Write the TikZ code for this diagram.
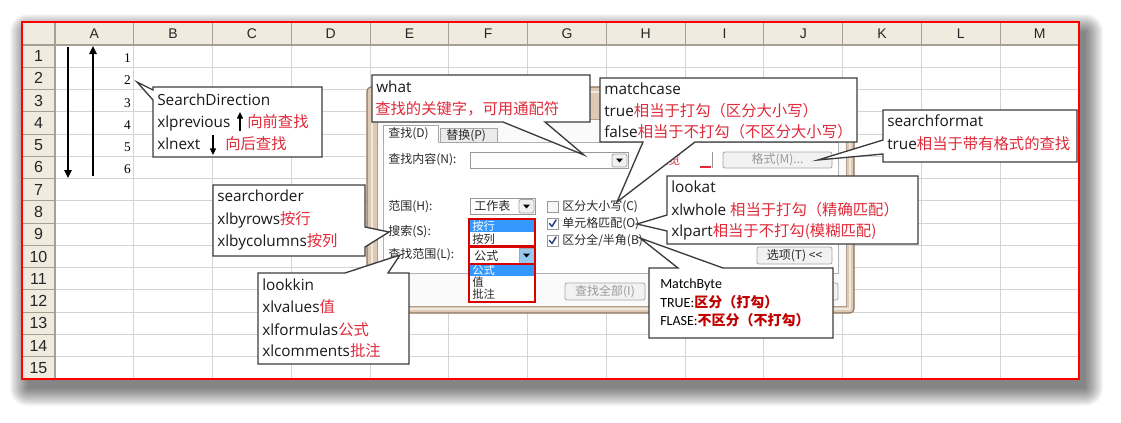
\documentclass[tikz,border=0pt]{standalone}
\usepackage{fontspec}
\setmainfont{Open Sans}
\newfontfamily\cjk{Noto Sans CJK SC}
\newfontfamily\calfont{Carlito}
\newfontfamily\hdrfont{Liberation Sans}
\newfontfamily\serfont{Liberation Serif}
\usetikzlibrary{arrows.meta,calc}
\definecolor{cred}{RGB}{224,42,58}
\definecolor{dred}{RGB}{192,0,0}
\definecolor{hdrbg}{RGB}{239,235,222}
\definecolor{hdrline}{RGB}{165,160,146}
\definecolor{gridc}{RGB}{212,212,212}
\definecolor{cbord}{RGB}{60,60,60}
\definecolor{dlgtan}{RGB}{222,201,180}
\definecolor{tandark}{RGB}{140,116,92}
\definecolor{dlgtext}{RGB}{40,40,40}
\definecolor{hiblue}{RGB}{51,153,255}
\definecolor{btnblue}{RGB}{150,200,240}
\definecolor{chk}{RGB}{40,60,130}
\newcommand\zhr[1]{{\color{cred}\cjk #1}}
\newcommand\zhb[1]{{\color{dred}\cjk\bfseries #1}}
\begin{document}
\begin{tikzpicture}[x=0.75pt,y=-0.75pt,
  lbl/.style={inner sep=0pt, anchor=base west, font=\fontsize{11.5}{14}\selectfont, text=black!90},
  mbl/.style={inner sep=0pt, anchor=base west, font=\calfont\fontsize{10.5}{13}\selectfont, text=black},
  callout/.style={fill=white, draw=cbord, line width=1pt, line join=miter},
  hdrlab/.style={font=\hdrfont\fontsize{10.5}{12}\selectfont, text=black!85, inner sep=0pt},
  rowlab/.style={font=\hdrfont\fontsize{12}{13}\selectfont, text=black!85, inner sep=0pt},
  dlg/.style={inner sep=0pt, anchor=west, font=\cjk\fontsize{9}{10}\selectfont, text=dlgtext},
  lst/.style={inner sep=0pt, anchor=west, font=\cjk\fontsize{8.5}{9}\selectfont, text=dlgtext},
  ctrl/.style={fill=white, draw=black!40, line width=0.6pt},
  btn/.style={fill=black!5, draw=black!35, line width=0.6pt, rounded corners=1.5pt},
  redbox/.style={draw=red!85!black, line width=1.3pt},
  arr/.style={line width=1.2pt, -{Triangle[length=6pt,width=5.5pt]}},
  sarr/.style={line width=1pt, -{Triangle[length=5pt,width=4.5pt]}},
  chkmark/.style={draw=chk, line width=1.1pt, line cap=round, line join=round}
]
\useasboundingbox (0,0) rectangle (1121,422);
\fill[white] (0,0) rectangle (1121,422);
% shadow of the sheet
\foreach \r in {0,...,18}
  \fill[black, opacity=0.03, rounded corners=\r*0.75pt] ({28-\r},{32-\r}) rectangle ({1085+\r},{388+\r});
% sheet
\fill[white] (22,22) rectangle (1079,379);
\fill[hdrbg] (22,22) rectangle (1079,45);
\fill[hdrbg] (22,45) rectangle (55,379);
\foreach \k in {1,...,12}
  \draw[gridc, line width=0.75pt] ({55+78.77*\k},45) -- ({55+78.77*\k},379);
\foreach \k in {1,...,14}
  \draw[gridc, line width=0.75pt] (55,{45+22.27*\k}) -- (1079,{45+22.27*\k});
\foreach \k in {1,...,12}
  \draw[hdrline, line width=0.75pt] ({55+78.77*\k},22) -- ({55+78.77*\k},45);
\foreach \k in {1,...,14}
  \draw[hdrline, line width=0.75pt] (22,{45+22.27*\k}) -- (55,{45+22.27*\k});
\draw[hdrline, line width=0.9pt] (22,45) -- (1079,45);
\draw[hdrline, line width=0.9pt] (55,22) -- (55,379);
\foreach \c [count=\k from 0] in {A,...,M}
  \node[hdrlab] (col-\c) at ({55+78.77*(\k+0.5)},33.5) {\c};
\foreach \k in {1,...,15}
  \node[rowlab] (row-\k) at (38.5,{45+22.27*(\k-0.5)}) {\k};
\draw[red, line width=1pt] (22,22) rectangle (1079,379);
% column A contents
\coordinate (dtop) at (68,47); \coordinate (dbot) at (68,178);
\coordinate (utop) at (93,46); \coordinate (ubot) at (93,176);
\draw[arr] (dtop) -- (dbot);
\draw[arr] (ubot) -- (utop);
\foreach \k in {1,...,6}
  \node[font=\serfont\fontsize{10}{12}\selectfont, anchor=east, inner sep=0pt] (num-\k) at (131,{45+22.27*(\k-0.5)+2}) {\k};

% ---------- dialog ----------
\draw[tandark, fill=dlgtan, line width=0.8pt, rounded corners=3pt] (367,87) rectangle (854,313);
\draw[white!55!dlgtan, line width=1.5pt] (371.5,91.5) rectangle (849.5,308.5);
\draw[tandark!70, fill=black!2, line width=0.6pt] (377,119) rectangle (846,306);
\draw[black!30, fill=white, line width=0.6pt] (383,142) rectangle (838,273);
\draw[black!35, fill=black!8, line width=0.6pt] (440,128) rectangle (497,142);
\draw[black!35, fill=white, line width=0.6pt] (383,142) -- (383,125) -- (438,125) -- (438,142);
\fill[white] (383.5,141) rectangle (437.5,143.5);
\node[dlg] (tabfind) at (388,134) {查找(D)};
\node[dlg] (tabrepl) at (446,136) {替换(P)};
% find what
\node[dlg] (lblwhat) at (388,160) {查找内容(N):};
\draw[ctrl] (470,152) rectangle (628,168);
\draw[btn, fill=black!6] (612,154) rectangle (627,167);
\fill[black] (616,158.5) -- (623,158.5) -- (619.5,162.5) -- cycle;
\node[dlg, text=cred] (prev) at (656,160) {预览};
\draw[cred, line width=1pt] (700,167) -- (711,167);
\draw[black!40, line width=0.6pt] (712,152) -- (712,168);
\draw[btn] (723,152) rectangle (832,168);
\node[dlg, anchor=center, text=black!40] (fmt) at (777.5,160) {格式(M)...};
% within
\node[dlg] (lblscope) at (388,207) {范围(H):};
\draw[ctrl] (470,198) rectangle (535,214);
\node[dlg] (scope) at (474,206) {工作表};
\draw[btn, fill=black!6] (519,199.5) rectangle (534,213);
\fill[black] (523,204.5) -- (530,204.5) -- (526.5,208.5) -- cycle;
% checkboxes
\draw[ctrl, fill=black!3] (547,201) rectangle (558,212);
\node[dlg] (cb1) at (562,207) {区分大小写(C)};
\draw[ctrl] (547,218) rectangle (558,229);
\draw[chkmark] (549.5,223.5) -- (552,226.5) -- (556,220);
\node[dlg] (cb2) at (562,224) {单元格匹配(O)};
\draw[ctrl] (547,235) rectangle (558,246);
\draw[chkmark] (549.5,240.5) -- (552,243.5) -- (556,237);
\node[dlg] (cb3) at (562,241) {区分全/半角(B)};
% search
\node[dlg] (lblsearch) at (388,232) {搜索(S):};
\fill[white] (469,219) rectangle (535,246);
\fill[hiblue] (470,220) rectangle (534,232);
\node[lst, text=white] (byrow) at (472,226) {按行};
\node[lst] (bycol) at (472,239.5) {按列};
\draw[redbox] (469,219) rectangle (535,246);
% look in
\node[dlg] (lbllook) at (388,255) {查找范围(L):};
\fill[white] (469,247) rectangle (535,264);
\node[dlg] (lookin) at (474,255.5) {公式};
\draw[draw=black!35, fill=btnblue, line width=0.6pt] (519,248.5) rectangle (534,263);
\fill[black] (523,253.5) -- (530,253.5) -- (526.5,257.5) -- cycle;
\draw[redbox] (469,247) rectangle (535,264);
\fill[white] (469,264) rectangle (535,302);
\fill[hiblue] (470,265) rectangle (534,276);
\node[lst, text=white] (li-1) at (472,270.5) {公式};
\node[lst] (li-2) at (472,282.5) {值};
\node[lst] (li-3) at (472,294) {批注};
\draw[redbox] (469,264) rectangle (535,302);
% buttons
\draw[btn] (757,247) rectangle (832,264);
\node[dlg, anchor=center] (opts) at (794.5,255.5) {选项(T) <<};
\draw[btn] (565,283) rectangle (645,300);
\node[dlg, anchor=center, text=black!40] (findall) at (605,291.5) {查找全部(I)};
\draw[btn] (745,283) rectangle (838,300);

% ---------- callouts ----------
% SearchDirection
\coordinate (sd-tip) at (137,82);
\filldraw[callout] (153,87) -- (322,87) -- (322,157) -- (153,157) -- (153,100) -- (sd-tip) -- (153,90) -- cycle;
\node[lbl] (sd-1) at (157,105) {SearchDirection};
\node[lbl] (sd-2) at (157,127) {xlprevious};
\node[lbl] (sd-2z) at (247,127) {\zhr{向前查找}};
\node[lbl] (sd-3) at (157,149.5) {xlnext};
\node[lbl] (sd-3z) at (225,149.5) {\zhr{向后查找}};
\coordinate (upa) at (240,131); \coordinate (upb) at (240,112);
\draw[sarr] (upa) -- (upb);
\coordinate (dna) at (213,135); \coordinate (dnb) at (213,155);
\draw[sarr] (dna) -- (dnb);
% what
\coordinate (wh-tip) at (584,155);
\filldraw[callout] (372,75) -- (590,75) -- (590,122) -- (545,122) -- (wh-tip) -- (503,122) -- (372,122) -- cycle;
\node[lbl] (wh-1) at (376,92) {what};
\node[lbl] (wh-2) at (375,114.5) {\zhr{查找的关键字，可用通配符}};
% matchcase
\coordinate (mc-tip) at (617,202);
\filldraw[callout] (600,78) -- (857,78) -- (857,142) -- (695,142) -- (mc-tip) -- (643,142) -- (600,142) -- cycle;
\node[lbl] (mc-1) at (604,94.5) {matchcase};
\node[lbl] (mc-2) at (604,116.5) {true\zhr{相当于打勾（区分大小写）}};
\node[lbl] (mc-3) at (604,137.5) {false\zhr{相当于不打勾（不区分大小写）}};
% searchformat
\coordinate (sf-tip) at (818,160);
\filldraw[callout] (883,110) -- (1077,110) -- (1077,162) -- (883,162) -- (883,154) -- (sf-tip) -- (883,140) -- cycle;
\node[lbl] (sf-1) at (887,126.5) {searchformat};
\node[lbl] (sf-2) at (887,149) {true\zhr{相当于带有格式的查找}};
% lookat
\coordinate (la-tip) at (637,224);
\filldraw[callout] (667,176) -- (918,176) -- (918,244) -- (667,244) -- (667,231) -- (la-tip) -- (667,215) -- cycle;
\node[lbl] (la-1) at (671,192.5) {lookat};
\node[lbl] (la-2) at (671,215) {xlwhole \zhr{相当于打勾（精确匹配）}};
\node[lbl] (la-3) at (671,236.5) {xlpart\zhr{相当于不打勾(模糊匹配)}};
% MatchByte
\coordinate (mb-tip) at (640,238);
\filldraw[callout] (649,268) -- (678,268) -- (mb-tip) -- (723,268) -- (833,268) -- (833,338) -- (649,338) -- cycle;
\node[mbl] (mb-1) at (660,288.5) {MatchByte};
\node[mbl] (mb-2) at (660,307) {TRUE:\zhb{区分（打勾）}};
\node[mbl] (mb-3) at (660,325.5) {FLASE:\zhb{不区分（不打勾）}};
% searchorder
\coordinate (so-tip) at (389,232);
\filldraw[callout] (213,185) -- (365,185) -- (365,227) -- (so-tip) -- (365,247) -- (365,256) -- (213,256) -- cycle;
\node[lbl] (so-1) at (217,201.5) {searchorder};
\node[lbl] (so-2) at (217,224.5) {xlbyrows\zhr{按行}};
\node[lbl] (so-3) at (217,246.5) {xlbycolumns\zhr{按列}};
% lookkin
\coordinate (lk-tip) at (400,255);
\filldraw[callout] (258,273) -- (345,273) -- (lk-tip) -- (388,273) -- (409,273) -- (409,364) -- (258,364) -- cycle;
\node[lbl] (lk-1) at (262,290) {lookkin};
\node[lbl] (lk-2) at (262,312.5) {xlvalues\zhr{值}};
\node[lbl] (lk-3) at (262,335) {xlformulas\zhr{公式}};
\node[lbl] (lk-4) at (262,356.5) {xlcomments\zhr{批注}};
\end{tikzpicture}
\end{document}
